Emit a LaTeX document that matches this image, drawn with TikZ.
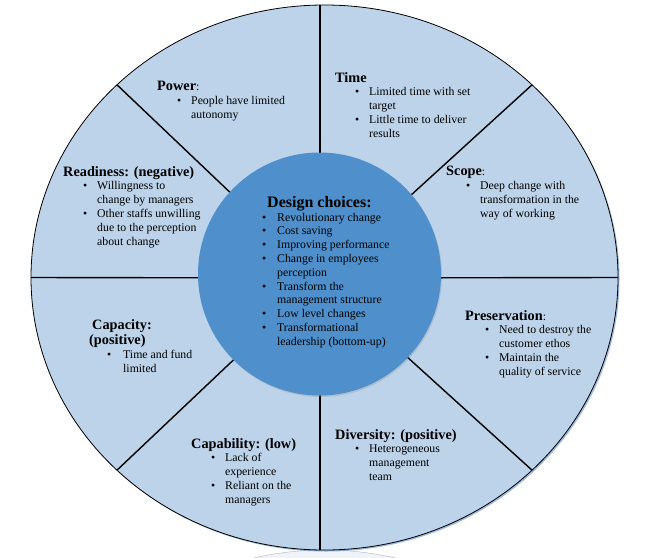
\documentclass[tikz,border=0pt]{standalone}
\usepackage{fontspec}
\setmainfont{Liberation Serif}
\usetikzlibrary{calc,shadows}
\definecolor{ringblue}{RGB}{189,211,234}
\definecolor{hubblue}{RGB}{79,144,204}
\definecolor{glowblue}{RGB}{95,140,200}
\tikzstyle{ring} = [draw=black, fill=ringblue, line width=0.8pt, drop shadow={shadow xshift=1.5pt, shadow yshift=-1.5pt, fill=glowblue, opacity=0.6}]
\tikzstyle{hub} = [fill=hubblue, drop shadow={shadow xshift=1pt, shadow yshift=-1.5pt, opacity=0.25}]
\tikzstyle{spoke} = [draw, line width=1.4pt]
\tikzstyle{sector} = [anchor=north west, inner sep=0pt, align=left, font=\fontsize{11.8}{13.8}\selectfont]
\newcommand{\hd}[1]{{\fontsize{14.3}{13.8}\selectfont\bfseries #1}}
\newcommand{\bl}{\hspace*{20pt}\makebox[14pt][l]{\textbullet}}
\newcommand{\cl}{\hspace*{34pt}}
\newcommand{\dbl}{\makebox[15pt][l]{\textbullet}}
\newcommand{\dcl}{\hspace*{15pt}}

\begin{document}
\begin{tikzpicture}[x=1pt, y=-1pt]
    \useasboundingbox (0,0) rectangle (647,557);
    % centres of the ring, the hub and the spokes
    \coordinate (oc) at (324.5,277.5);
    \coordinate (hc) at (319.5,274);
    \coordinate (sc) at (320,278);

    % faint ring showing below
    \draw[gray!60, fill=ringblue!25] ($(oc)+(0,545)$) ellipse [x radius=293.5, y radius=272.5];

    % the outer ring and its eight spokes
    \path[ring] (oc) ellipse [x radius=293.5, y radius=272.5];
    \foreach \a in {0,45,...,315}
        \coordinate (o\a) at ($(oc)+(\a:293.5 and 272.5)$);
    \foreach \a in {0,45,135,180,225,315}
        \path[spoke] (sc) -- (o\a);
    \foreach \a in {90,270}
        \path[spoke] (sc) -- (sc |- o\a);

    % the hub
    \path[hub] (hc) circle [radius=121.5];

    % sector texts
    \node[sector] (power) at (157,81) {\hd{Power}:\\ \bl People have limited\\ \cl autonomy};
    \node[sector] (time) at (335,72) {\hd{Time}\\ \bl Limited time with set\\ \cl target\\ \bl Little time to deliver\\ \cl results};
    \node[sector] (scope) at (446,166) {\hd{Scope}:\\ \bl Deep change with\\ \cl transformation in the\\ \cl way of working};
    \node[sector] (readiness) at (63,166) {\hd{Readiness: (negative)}\\ \bl Willingness to\\ \cl change by managers\\ \bl Other staffs unwilling\\ \cl due to the perception\\ \cl about change};
    \node[sector] (capacity) at (89,319) {\hspace*{3pt}\hd{Capacity:}\\[2pt] \hd{(positive)}\\ \hspace*{18pt}\makebox[16pt][l]{\textbullet}Time and fund\\ \cl limited};
    \node[sector] (capability) at (191,438) {\hd{Capability: (low)}\\ \bl Lack of\\ \cl experience\\ \bl Reliant on the\\ \cl managers};
    \node[sector] (preservation) at (465,310) {\hd{Preservation}:\\ \bl Need to destroy the\\ \cl customer ethos\\ \bl Maintain the\\ \cl quality of service};
    \node[sector] (diversity) at (335,429) {\hd{Diversity: (positive)}\\ \bl Heterogeneous\\ \cl management\\ \cl team};

    % hub text
    \node[sector] (design) at (262,196) {\hspace*{5pt}{\fontsize{16}{13.8}\selectfont\bfseries Design choices:}\\ \dbl Revolutionary change\\ \dbl Cost saving\\ \dbl Improving performance\\ \dbl Change in employees\\ \dcl perception\\ \dbl Transform the\\ \dcl management structure\\ \dbl Low level changes\\ \dbl Transformational\\ \dcl leadership (bottom-up)};
\end{tikzpicture}
\end{document}
